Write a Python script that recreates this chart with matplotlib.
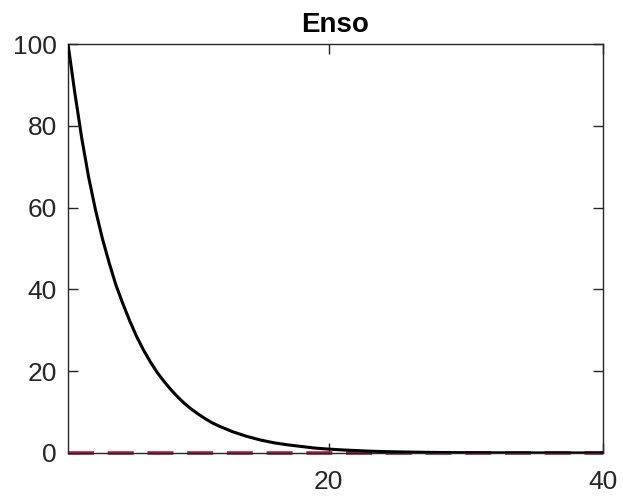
import matplotlib
matplotlib.use("Agg")
import matplotlib.pyplot as plt

# horizon (periods) and response values
horizon = [1, 1.5, 2, 2.5, 3, 3.5, 4, 4.5, 5, 5.5, 6, 6.5, 7, 7.5, 8, 8.5,
           9, 9.5, 10, 10.5, 11, 11.5, 12, 12.5, 13, 14, 15, 16, 17, 18,
           19, 20, 21, 22, 23, 24, 25, 26, 27, 28, 29, 30, 31, 32, 33, 34,
           35, 36, 37, 38, 39, 40]
response = [100, 88, 77, 67.5, 59.5, 52.5, 46.5, 41, 36.5, 32.3, 28.5, 25.2,
            22.3, 19.7, 17.5, 15.5, 13.7, 12.1, 10.7, 9.5, 8.4, 7.4, 6.6,
            5.9, 5.2, 4.1, 3.2, 2.5, 2.0, 1.6, 1.2, 0.95, 0.75, 0.6, 0.45,
            0.35, 0.28, 0.22, 0.17, 0.13, 0.1, 0.08, 0.06, 0.05, 0.04, 0.03,
            0.02, 0.02, 0.01, 0.01, 0.01, 0.01]
zero_x = [1, 40]
zero_y = [0, 0]

plt.rcParams['font.family'] = ['Liberation Sans', 'DejaVu Sans']

fig = plt.figure(figsize=(6.23, 4.99), dpi=100)
ax = fig.add_axes([68 / 623, 46 / 499, 535 / 623, 409 / 499])

ax.plot(horizon, response, color="black", linewidth=2.2, zorder=3,
        solid_joinstyle="round")
ax.plot(zero_x, zero_y, color="#b51a40", linewidth=2.6,
        dashes=(7.2, 3.8), zorder=2, clip_on=False)

ax.set_xlim(1, 40)
ax.set_ylim(0, 100)
ax.set_xticks([20, 40])
ax.set_yticks([0, 20, 40, 60, 80, 100])

ax.set_title("Enso", fontsize=20, fontweight="bold", pad=9)

ax.tick_params(direction="in", length=7, width=1.0, colors="#262626",
               labelsize=19, top=True, right=True)
ax.tick_params(axis="x", pad=12)
ax.tick_params(axis="y", pad=8)
for s in ax.spines.values():
    s.set_color("#262626")
    s.set_linewidth(1.0)

fig.savefig("out.png", dpi=100)
